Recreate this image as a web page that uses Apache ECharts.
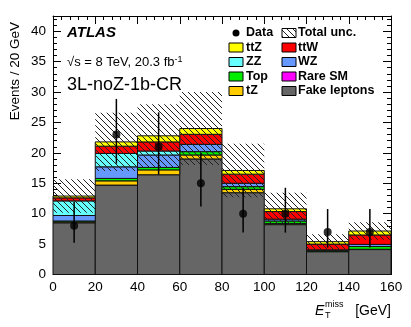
<!DOCTYPE html>
<html>
<head>
<meta charset="utf-8">
<title>3L-noZ-1b-CR</title>
<script src="https://cdn.jsdelivr.net/npm/echarts@6/dist/echarts.min.js"></script>
<style>
  html, body { margin: 0; padding: 0; background: #fff; }
  #main { width: 411px; height: 327px; }
</style>
</head>
<body>
<div id="main"></div>
<script>
// bins of E_T^miss, 20 GeV wide
var binEdges = [0, 20, 40, 60, 80, 100, 120, 140, 160];

// stacked backgrounds, bottom to top (events / 20 GeV)
var fakeLeptons = [8.5, 14.7, 16.4, 19.0, 13.45, 8.2, 3.75, 4.1];
var tZ          = [0.15, 0.7, 0.8, 0.65, 0.55, 0.2, 0.05, 0.05];
var topBkg      = [0.15, 0.4, 0.4, 0.55, 0.45, 0.4, 0.2, 0.45];
var WZ          = [0.9, 1.9, 2.05, 1.2, 0.55, 0.3, 0.05, 0.35];
var ZZ          = [2.4, 2.2, 0.65, 0, 0, 0, 0, 0];
var rareSM      = [0, 0, 0, 0, 0, 0, 0, 0];
var ttW         = [0.5, 1.2, 1.5, 1.65, 1.5, 1.25, 0.95, 1.55];
var ttZ         = [0.3, 0.7, 1.0, 0.95, 0.6, 0.45, 0.4, 0.65];

// total uncertainty (+/-) on the stack
var totalUnc = [2.75, 4.8, 5.2, 6.0, 4.4, 2.65, 1.2, 1.45];

// data with asymmetric poisson errors
var dataCounts  = [8, 23, 21, 15, 10, 10, 7, 7];
var dataErrLow  = [2.77, 4.77, 4.55, 3.82, 3.11, 3.11, 2.58, 2.58];
var dataErrHigh = [3.96, 5.86, 5.66, 4.95, 4.26, 4.26, 3.77, 3.77];

var yTicks = [0, 5, 10, 15, 20, 25, 30, 35, 40];

var FONT = "'Liberation Sans', Arial, Helvetica, sans-serif";

var myChart = echarts.init(document.getElementById('main'));

// components in stacking order
var components = [
  { name: 'Fake leptons', values: fakeLeptons, color: '#666666' },
  { name: 'tZ', values: tZ, color: '#ffcc00' },
  { name: 'Top', values: topBkg, color: '#00ee00' },
  { name: 'WZ', values: WZ, color: '#6699ff' },
  { name: 'ZZ', values: ZZ, color: '#66ffff' },
  { name: 'Rare SM', values: rareSM, color: '#ff00ff' },
  { name: 'ttW', values: ttW, color: '#ff0000' },
  { name: 'ttZ', values: ttZ, color: '#ffff00' }
];

// hatch pattern for total unc.
var hatch = document.createElement('canvas');
hatch.width = 6;
hatch.height = 6;
var hc = hatch.getContext('2d');
hc.strokeStyle = '#222';
hc.lineWidth = 1;
[-6, 0, 6].forEach(function(off) {
  hc.beginPath();
  hc.moveTo(off - 1, -1);
  hc.lineTo(off + 7, 7);
  hc.stroke();
});

function rectItem(fill, stroke) {
  return function(params, api) {
    var p0 = api.coord([api.value(0), api.value(2)]);
    var p1 = api.coord([api.value(1), api.value(3)]);
    var style = { fill: fill };
    if (stroke) {
      style.stroke = stroke;
      style.lineWidth = 1;
    } else {
      style.lineWidth = 0;
    }
    return {
      type: 'rect',
      shape: { x: p0[0], y: p1[1], width: p1[0] - p0[0], height: p0[1] - p1[1] },
      style: style
    };
  };
}

var series = [];
var cum = binEdges.slice(0, -1).map(function() { return 0; });
components.forEach(function(c) {
  var rows = [];
  for (var i = 0; i < c.values.length; i++) {
    if (c.values[i] > 0) {
      rows.push([binEdges[i], binEdges[i + 1], cum[i], cum[i] + c.values[i]]);
    }
    cum[i] += c.values[i];
  }
  series.push({
    name: c.name,
    type: 'custom',
    renderItem: rectItem(c.color, '#111'),
    data: rows,
    silent: true,
    z: 2
  });
});

// uncertainty band
var bandRows = [];
for (var i = 0; i < cum.length; i++) {
  bandRows.push([binEdges[i], binEdges[i + 1], cum[i] - totalUnc[i], cum[i] + totalUnc[i]]);
}
series.push({
  name: 'Total unc.',
  type: 'custom',
  renderItem: rectItem({ image: hatch, repeat: 'repeat' }, null),
  data: bandRows,
  silent: true,
  z: 3
});

// data error bars
var errRows = [];
var dataPts = [];
for (var j = 0; j < dataCounts.length; j++) {
  var xc = (binEdges[j] + binEdges[j + 1]) / 2;
  errRows.push([xc, dataCounts[j] - dataErrLow[j], dataCounts[j] + dataErrHigh[j]]);
  dataPts.push([xc, dataCounts[j]]);
}
series.push({
  name: 'Data err',
  type: 'custom',
  renderItem: function(params, api) {
    var a = api.coord([api.value(0), api.value(1)]);
    var b = api.coord([api.value(0), api.value(2)]);
    return {
      type: 'line',
      shape: { x1: a[0], y1: a[1], x2: b[0], y2: b[1] },
      style: { stroke: '#000', lineWidth: 1.5 }
    };
  },
  data: errRows,
  silent: true,
  z: 4
});
series.push({
  name: 'Data',
  type: 'scatter',
  data: dataPts,
  symbol: 'circle',
  symbolSize: 8,
  itemStyle: { color: '#000' },
  silent: true,
  z: 5
});

function axisCommon(extra) {
  var base = {
    type: 'value',
    axisLine: { show: true, onZero: false, lineStyle: { color: '#000', width: 1 } },
    axisTick: { show: true, inside: true, length: 8, lineStyle: { color: '#000', width: 1 } },
    minorTick: { show: true, splitNumber: 5, length: 4, lineStyle: { color: '#000', width: 1 } },
    splitLine: { show: false },
    minorSplitLine: { show: false }
  };
  for (var k in extra) base[k] = extra[k];
  return base;
}

var legendLeft = [
  ['ttZ', '#ffff00'], ['ZZ', '#66ffff'], ['Top', '#00ee00'], ['tZ', '#ffcc00']
];
var legendRight = [
  ['ttW', '#ff0000'], ['WZ', '#6699ff'], ['Rare SM', '#ff00ff'], ['Fake leptons', '#666666']
];
var rowY = [33, 47.5, 62, 76.5, 91];

var graphics = [];
function addText(x, y, text, font, align) {
  graphics.push({
    type: 'text', x: x, y: y, silent: true, z: 10,
    style: {
      text: text, font: font, fill: '#000',
      align: align || 'left', verticalAlign: 'middle',
      textAlign: align || 'left', textVerticalAlign: 'middle'
    }
  });
}
function addBox(x, y, fill) {
  graphics.push({
    type: 'rect', silent: true, z: 10,
    shape: { x: x, y: y - 4.5, width: 14, height: 9 },
    style: { fill: fill, stroke: '#000', lineWidth: 1 }
  });
}

// legend row 1
graphics.push({
  type: 'circle', silent: true, z: 10,
  shape: { cx: 236, cy: rowY[0], r: 3.5 },
  style: { fill: '#000' }
});
addText(246, rowY[0], 'Data', 'bold 12.5px ' + FONT);
addBox(282, rowY[0], { image: hatch, repeat: 'repeat' });
addText(298, rowY[0], 'Total unc.', 'bold 12.5px ' + FONT);
legendLeft.forEach(function(l, i) {
  addBox(229, rowY[i + 1], l[1]);
  addText(246, rowY[i + 1], l[0], 'bold 12.5px ' + FONT);
});
legendRight.forEach(function(l, i) {
  addBox(282, rowY[i + 1], l[1]);
  addText(298, rowY[i + 1], l[0], 'bold 12.5px ' + FONT);
});

// labels
addText(67, 33, 'ATLAS', 'italic bold 15px ' + FONT);
graphics.push({
  type: 'text', x: 67, y: 62, silent: true, z: 10,
  style: {
    text: '\u221As = 8 TeV, 20.3 fb{sup|-1}',
    font: '13px ' + FONT, fill: '#000',
    align: 'left', verticalAlign: 'middle', textAlign: 'left', textVerticalAlign: 'middle',
    rich: { sup: { fontSize: 9, fontFamily: FONT, verticalAlign: 'top', fill: '#000', color: '#000' } }
  }
});
addText(67, 85, '3L-noZ-1b-CR', '18px ' + FONT);

// axis titles
graphics.push({
  type: 'text', x: 15, y: 22, rotation: Math.PI / 2, silent: true,
  style: {
    text: 'Events / 20 GeV', font: '13.5px ' + FONT, fill: '#000',
    align: 'right', verticalAlign: 'middle', textAlign: 'right', textVerticalAlign: 'middle'
  }
});
addText(315, 311, 'E', 'italic 14px ' + FONT);
addText(325, 305, 'miss', '9px ' + FONT);
addText(325, 316, 'T', '9px ' + FONT);
addText(391, 311, '[GeV]', '14px ' + FONT, 'right');

var option = {
  animation: false,
  backgroundColor: '#fff',
  grid: { left: 53, right: 20, top: 16, bottom: 52.5, containLabel: false, outerBoundsMode: 'none' },
  xAxis: [
    axisCommon({
      min: 0, max: 160, interval: 20, position: 'bottom',
      axisLabel: { color: '#000', fontSize: 13.5, fontFamily: FONT, margin: 6 }
    }),
    axisCommon({
      min: 0, max: 160, interval: 20, position: 'top',
      axisLabel: { show: false }
    })
  ],
  yAxis: [
    axisCommon({
      min: 0, max: 42.5, interval: 5, position: 'left',
      axisLabel: {
        color: '#000', fontSize: 13.5, fontFamily: FONT, margin: 7,
        formatter: function(v) { return yTicks.indexOf(v) >= 0 ? String(v) : ''; }
      }
    }),
    axisCommon({
      min: 0, max: 42.5, interval: 5, position: 'right',
      axisLabel: { show: false }
    })
  ],
  series: series,
  graphic: graphics
};

myChart.setOption(option);
</script>
</body>
</html>
